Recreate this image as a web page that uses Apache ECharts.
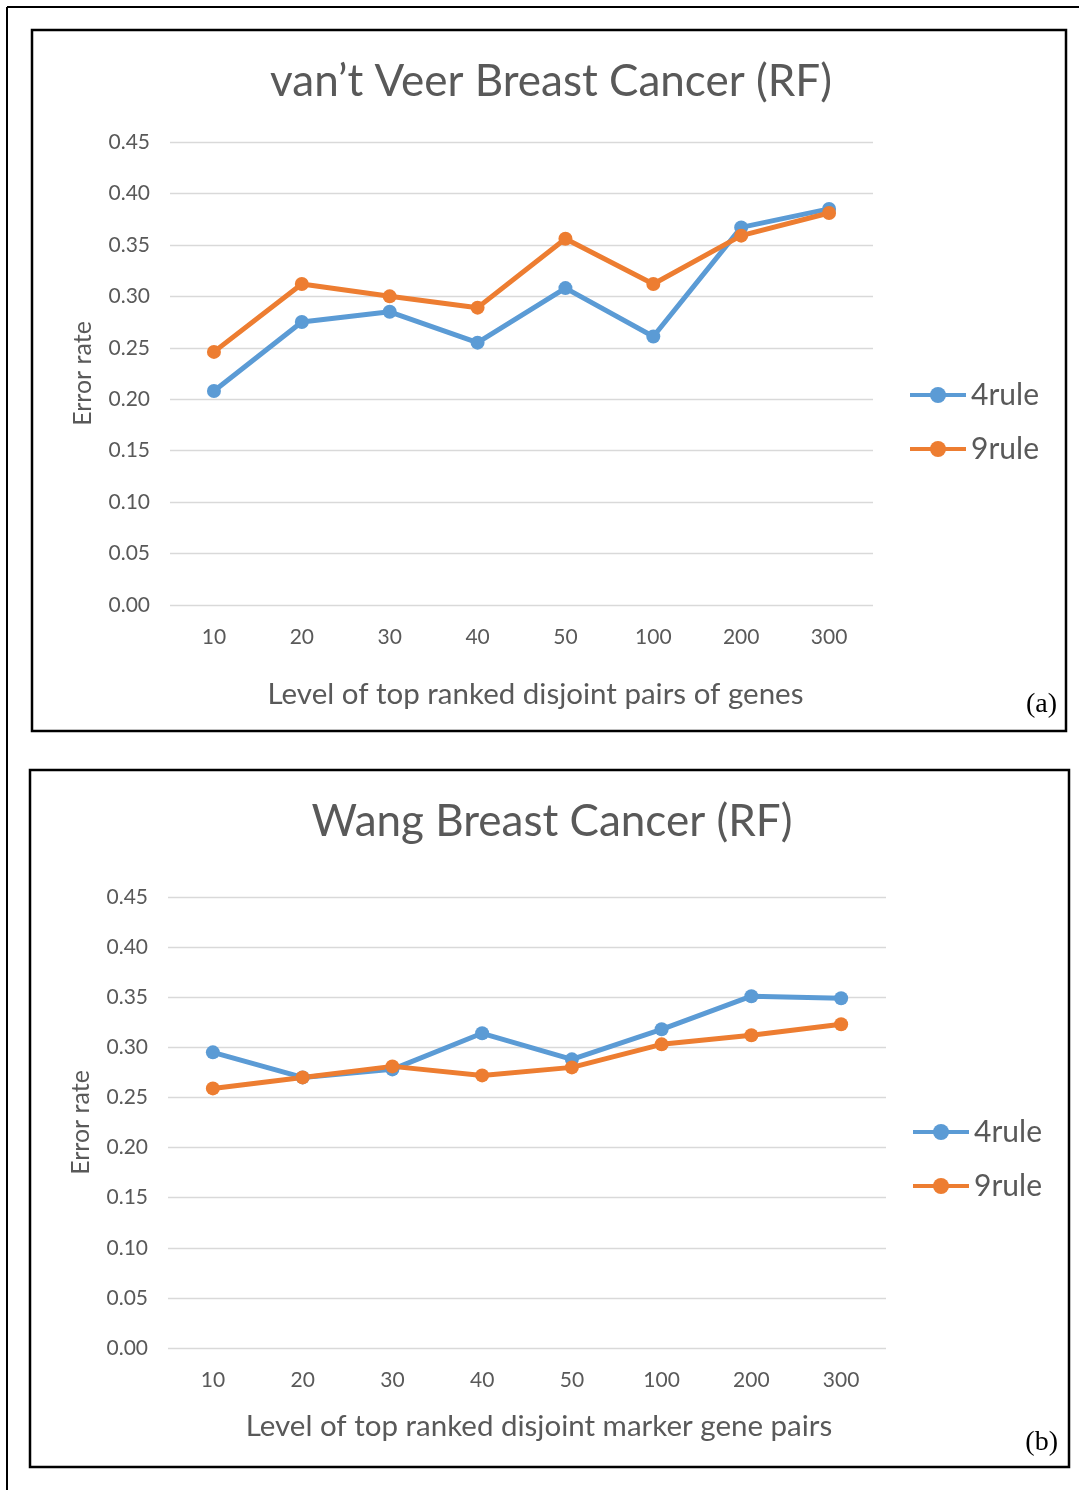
<!DOCTYPE html>
<html>
<head>
<meta charset="utf-8">
<style>
  html, body { margin: 0; padding: 0; background: #ffffff; }
  #chart { width: 1079px; height: 1490px; }
</style>
<script src="https://cdn.jsdelivr.net/npm/echarts@6/dist/echarts.min.js"></script>
</head>
<body>
<div id="chart"></div>
<script>
// Level of top ranked gene pairs (shared by both panels)
const levels = ['10', '20', '30', '40', '50', '100', '200', '300'];

// Panel (a): van't Veer breast cancer, random forest error rates
const vantVeer4rule = [0.208, 0.275, 0.285, 0.255, 0.308, 0.261, 0.367, 0.385];
const vantVeer9rule = [0.246, 0.312, 0.300, 0.289, 0.356, 0.312, 0.359, 0.381];

// Panel (b): Wang breast cancer, random forest error rates
const wang4rule = [0.295, 0.270, 0.278, 0.314, 0.288, 0.318, 0.351, 0.349];
const wang9rule = [0.259, 0.270, 0.281, 0.272, 0.280, 0.303, 0.312, 0.323];

const seriesNames = ['4rule', '9rule'];
const titles = ['van\u2019t Veer Breast Cancer (RF)', 'Wang Breast Cancer (RF)'];
const xNames = ['Level of top ranked disjoint pairs of genes',
                'Level of top ranked disjoint marker gene pairs'];
const yName = 'Error rate';
const panelTags = ['(a)', '(b)'];

const BLUE = '#5B9BD5';
const ORANGE = '#ED7D31';
const TEXT = '#595959';
const FONT = 'Lato';

const grids = [
  { left: 170, top: 142, width: 703, height: 463 },
  { left: 168, top: 897, width: 718, height: 451 }
];

function yAxis(i) {
  return {
    type: 'value', gridIndex: i, min: 0, max: 0.45, interval: 0.05,
    name: yName, nameLocation: 'middle', nameGap: 75, nameRotate: 90,
    nameTextStyle: { color: TEXT, fontFamily: FONT, fontSize: 25 },
    axisLine: { show: false }, axisTick: { show: false },
    axisLabel: { color: TEXT, fontFamily: FONT, fontSize: 21, margin: 20,
                 formatter: v => v.toFixed(2) },
    splitLine: { lineStyle: { color: '#D9D9D9', width: 1.3 } }
  };
}

function xAxis(i, gap, shift) {
  return {
    type: 'category', gridIndex: i, data: levels, boundaryGap: true,
    name: xNames[i], nameLocation: 'middle', nameGap: gap,
    nameTextStyle: { color: TEXT, fontFamily: FONT, fontSize: 29.5, padding: [0, 0, 0, shift * 2] },
    axisLine: { show: false }, axisTick: { show: false },
    axisLabel: { color: TEXT, fontFamily: FONT, fontSize: 21, margin: 22 }
  };
}

function line(name, data, color, i) {
  return {
    name: name, type: 'line', xAxisIndex: i, yAxisIndex: i, data: data,
    symbol: 'circle', symbolSize: 14, color: color,
    lineStyle: { width: 5, color: color },
    itemStyle: { color: color }
  };
}

function legend(left, top) {
  return {
    orient: 'vertical', left: left, top: top, itemGap: 22,
    itemWidth: 56, itemHeight: 20,
    lineStyle: { width: 4 },
    data: seriesNames.map(n => ({ name: n })),
    textStyle: { color: TEXT, fontFamily: FONT, fontSize: 30, lineHeight: 32 }
  };
}

const titleStyle = { color: TEXT, fontFamily: FONT, fontSize: 44, fontWeight: 'normal' };

const option = {
  backgroundColor: '#ffffff',
  animation: false,
  title: [
    { text: titles[0], top: 55, left: 546, textAlign: 'center', textStyle: titleStyle },
    { text: titles[1], top: 795, left: 547, textAlign: 'center', textStyle: titleStyle }
  ],
  grid: grids,
  xAxis: [xAxis(0, 74, 14), xAxis(1, 63, 12)],
  yAxis: [yAxis(0), yAxis(1)],
  legend: [legend(903, 374), legend(906, 1111)],
  series: [
    line('4rule', vantVeer4rule, BLUE, 0),
    line('9rule', vantVeer9rule, ORANGE, 0),
    line('4rule', wang4rule, BLUE, 1),
    line('9rule', wang9rule, ORANGE, 1)
  ],
  graphic: [
    // outer page frame
    { type: 'line', shape: { x1: 7, y1: 7, x2: 1079, y2: 7 }, style: { stroke: '#000', lineWidth: 2 } },
    { type: 'line', shape: { x1: 7, y1: 7, x2: 7, y2: 1490 }, style: { stroke: '#000', lineWidth: 2 } },
    // panel frames
    { type: 'rect', shape: { x: 32, y: 30, width: 1034, height: 701 },
      style: { fill: 'none', stroke: '#000', lineWidth: 2.5 } },
    { type: 'rect', shape: { x: 30, y: 770, width: 1039, height: 697 },
      style: { fill: 'none', stroke: '#000', lineWidth: 2.5 } },
    // panel tags
    { type: 'text', x: 1057, y: 705, style: { text: panelTags[0], fill: '#000',
      font: '28px "Liberation Serif"', textAlign: 'right', textVerticalAlign: 'middle' } },
    { type: 'text', x: 1058, y: 1443, style: { text: panelTags[1], fill: '#000',
      font: '28px "Liberation Serif"', textAlign: 'right', textVerticalAlign: 'middle' } }
  ]
};

const chart = echarts.init(document.getElementById('chart'), null, { renderer: 'canvas' });
chart.setOption(option);
</script>
</body>
</html>
